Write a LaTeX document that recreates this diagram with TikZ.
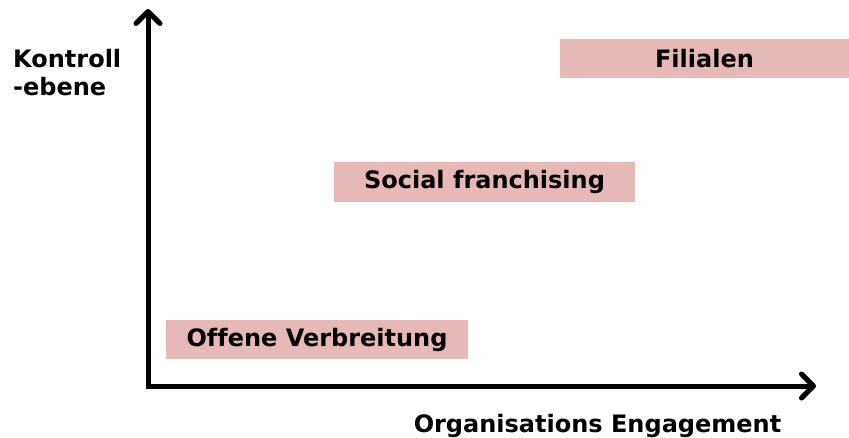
\documentclass[tikz,border=0pt]{standalone}
\usepackage{fontspec}
\setmainfont[Ligatures=NoCommon]{DejaVu Sans}
\usetikzlibrary{arrows.meta}
\definecolor{boxpink}{HTML}{E6B8B7}
\begin{document}
\begin{tikzpicture}[x=1pt,y=-1pt,
  label text/.style={font=\fontsize{24}{28}\selectfont\bfseries, text=black},
  stage/.style={fill=boxpink, draw=none, inner sep=0pt, label text},
  barb/.tip={Straight Barb[length=12pt,width=24pt,line join=round,line cap=round]},
  axis/.style={line width=5pt, line join=miter, line cap=round, {barb}-{barb}}]
  \useasboundingbox (0,0) rectangle (849,437);

  % axes
  \coordinate (ytip) at (148,9);
  \coordinate (origin) at (148,386);
  \coordinate (xtip) at (816,386);
  \draw[axis] (ytip) -- (origin) -- (xtip);

  % stages
  \node[stage, minimum width=289pt, minimum height=39pt] (fil) at (704.5,58.5) {Filialen};
  \node[stage, minimum width=301pt, minimum height=40pt] (soc) at (484.5,182) {Social franchising};
  \node[stage, minimum width=302pt, minimum height=39pt] (off) at (317,339.5) {Offene Verbreitung};

  % axis labels (anchor base = baseline of the last line)
  \node[label text, align=left, inner sep=0pt, anchor=base west] (ylab) at (13,95) {Kontroll\\-ebene};
  \node[label text, inner sep=0pt, anchor=base] (xlab) at (597.5,432) {Organisations Engagement};
\end{tikzpicture}
\end{document}
